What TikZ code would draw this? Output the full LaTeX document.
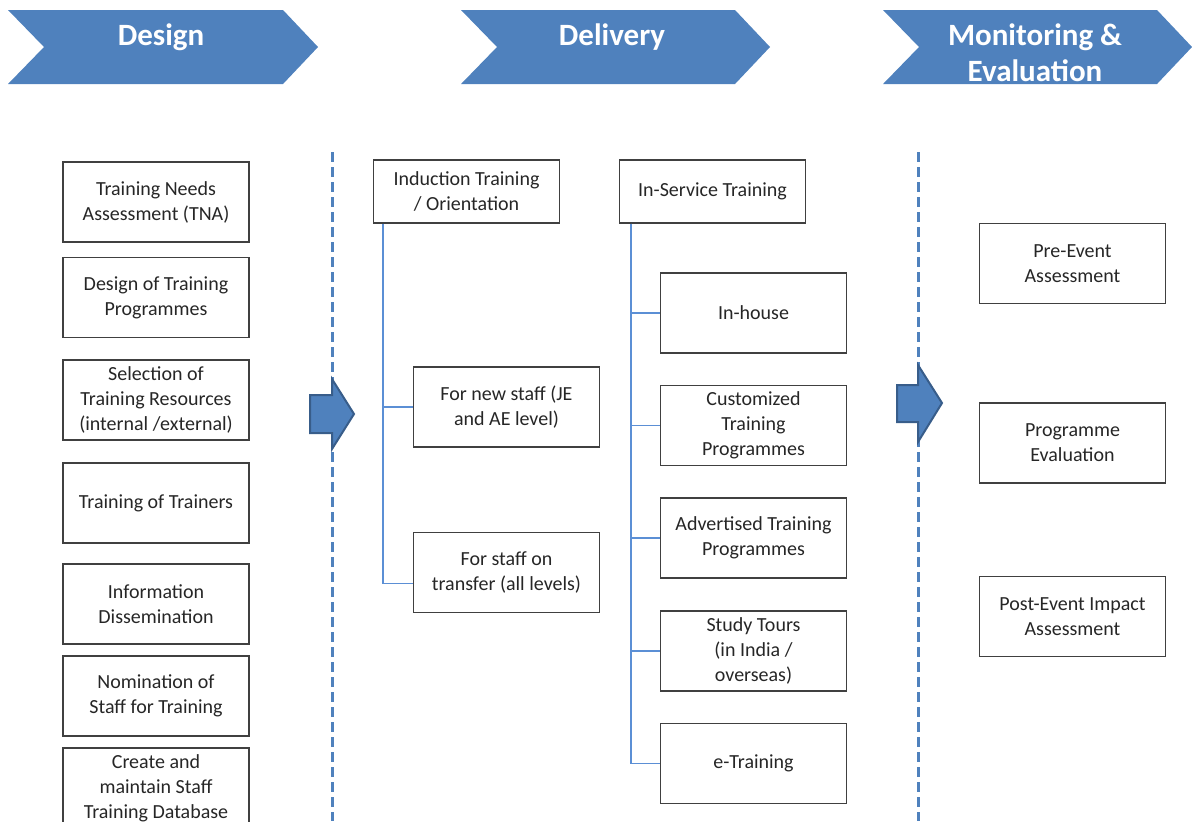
\documentclass[tikz,border=0pt]{standalone}
\usepackage{fontspec}
\setmainfont{Carlito}
\usetikzlibrary{positioning}
\definecolor{hdrblue}{HTML}{4F81BD}
\definecolor{hdredge}{HTML}{385D8A}
\definecolor{linkblue}{HTML}{5B8FD5}
\tikzstyle{every picture}=[x=0.5pt, y=-0.5pt, node distance=15.5pt]
\tikzstyle{task}=[draw=black!75, line width=0.8pt, minimum width=93pt, minimum height=40pt,%
	inner sep=2pt, align=center, text=black!85, font=\fontsize{10}{12.5}\selectfont]
\tikzstyle{topbox}=[task, minimum height=31.5pt]
\tikzstyle{title}=[text=white, anchor=north, inner sep=0pt, align=center,%
	font=\fontsize{15.5}{18}\selectfont\bfseries]
\tikzstyle{divider}=[hdrblue, line width=1.5pt, dash pattern=on 5pt off 2.5pt]
\tikzstyle{link}=[linkblue, line width=0.8pt]
\tikzstyle{bigarrow}=[fill=hdrblue, draw=hdredge, line width=1pt, line join=miter]

\begin{document}
\begin{tikzpicture}
\useasboundingbox (0,0) rectangle (1192,821);
% stage chevrons
\foreach \xa/\xb in {8/283, 461/735, 883/1157}
	\fill[hdrblue] (\xa,10) -- (\xb,10) -- ++(35,37) -- (\xb,84) -- (\xa,84) -- ++(36,-37) -- cycle;
\node[title] (tdesign) at (161,23) {Design};
\node[title] (tdeliv) at (612,23) {Delivery};
\node[title] (tmon) at (1035,23) {Monitoring \&\\ Evaluation};

% dividers and block arrows
\draw[divider] (332,152) -- (332,821);
\draw[divider] (918,152) -- (918,821);
\draw[bigarrow] (310,395) -- (332,395) -- (332,379) -- (354,414) -- (332,449) -- (332,433) -- (310,433) -- cycle;
\draw[bigarrow] (897,385) -- (918,385) -- (918,365) -- (942,403) -- (918,442) -- (918,422) -- (897,422) -- cycle;

% design
\node[task] (tna) at (156,202) {Training Needs\\ Assessment (TNA)};
\node[task] (progdes) at (156,297.5) {Design of Training\\ Programmes};
\node[task] (select) at (156,400) {Selection of\\ Training Resources\\ (internal /external)};
\node[task] (tot) at (156,503) {Training of Trainers};
\node[task] (info) at (156,604) {Information\\ Dissemination};
\node[task] (nomin) at (156,696) {Nomination of\\ Staff for Training};
\node[task] (dbase) at (156,788) {Create and\\ maintain Staff\\ Training Database};

% delivery
\node[topbox] (induct) at (466.5,191.5) {Induction Training\\ / Orientation};
\node[task] (newstaff) at (506.5,407) {For new staff (JE\\ and AE level)};
\node[task] (transfer) at (506.5,572.5) {For staff on\\ transfer (all levels)};
\node[topbox] (inserv) at (712.5,191.5) {In-Service Training};
\node[task] (inhouse) at (753.5,313) {In-house};
\node[task] (custom) [below=of inhouse] {Customized\\ Training\\ Programmes};
\node[task] (advert) [below=of custom] {Advertised Training\\ Programmes};
\node[task] (tours) [below=of advert] {Study Tours\\ (in India /\\ overseas)};
\node[task] (etrain) [below=of tours] {e-Training};
\draw[link] ([xshift=5pt]induct.south west) |- (newstaff.west);
\draw[link] ([xshift=5pt]induct.south west) |- ([yshift=-5.5pt]transfer.west);
\foreach \n in {inhouse,custom,advert,tours,etrain}
	\draw[link] ([xshift=6pt]inserv.south west) |- (\n.west);

% monitoring & evaluation
\node[task] (preev) at (1072.5,263.5) {Pre-Event\\ Assessment};
\node[task] (progev) at (1072.5,443) {Programme\\ Evaluation};
\node[task] (postev) at (1072.5,616.5) {Post-Event Impact\\ Assessment};
\end{tikzpicture}
\end{document}
